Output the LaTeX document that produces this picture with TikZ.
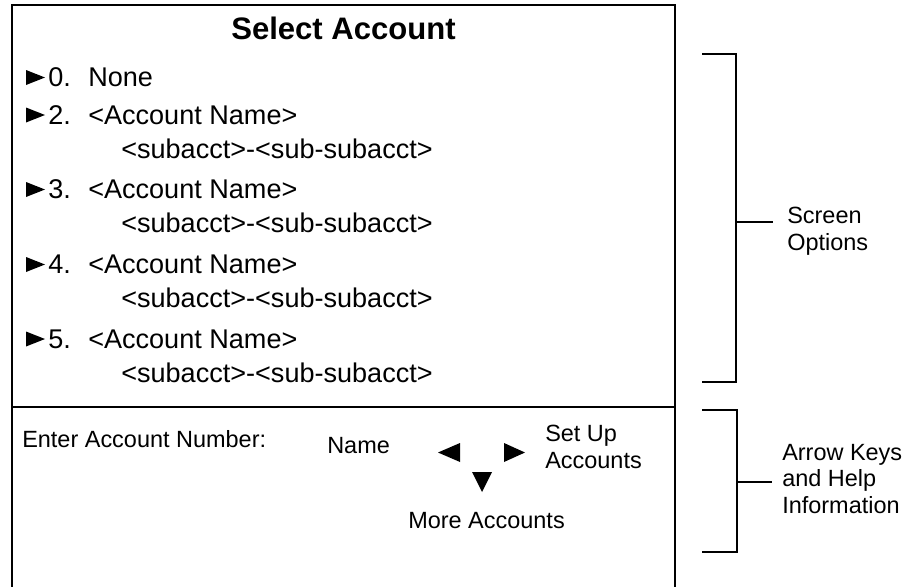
\documentclass[tikz,border=0pt]{standalone}
\usepackage{fontspec}
\setmainfont{Liberation Sans}

\tikzset{
  frame/.style={line width=2.1pt},
  brace/.style={line width=1.9pt},
  heading/.style={font=\bfseries\fontsize{23.3}{28}\selectfont,inner sep=0pt,anchor=base},
  item/.style={font=\fontsize{20.3}{24}\selectfont,inner sep=0pt,anchor=base west},
  note/.style={font=\fontsize{17.6}{21}\selectfont,inner sep=0pt,anchor=base west}
}

\begin{document}
\begin{tikzpicture}[x=0.75pt,y=0.75pt,yscale=-1,xscale=1]
	\useasboundingbox (0,0) rectangle (914,586);
	% screen
	\draw [frame] (12,592) -- (12,5) -- (675,5) -- (675,592) ;
	\draw [frame] (12,407) -- (675,407) ;
	\draw (343.5,39) node (title) [heading] {Select Account};
	% account list
	\fill (26,70) -- (45,77.5) -- (26,85) -- cycle ;
	\draw (48,86.5) node (num0) [item] {0.};
	\draw (88,86.5) node (acct0) [item] {None};
	\fill (26,107.5) -- (45,115) -- (26,122.5) -- cycle ;
	\draw (48,124) node (num2) [item] {2.};
	\draw (88,124) node (acct2) [item] {<Account Name>};
	\draw (121,158) node (sub2) [item] {<subacct>-<sub-subacct>};
	\fill (26,182) -- (45,189.5) -- (26,197) -- cycle ;
	\draw (48,198.5) node (num3) [item] {3.};
	\draw (88,198.5) node (acct3) [item] {<Account Name>};
	\draw (121,232.5) node (sub3) [item] {<subacct>-<sub-subacct>};
	\fill (26,257) -- (45,264.5) -- (26,272) -- cycle ;
	\draw (48,273.5) node (num4) [item] {4.};
	\draw (88,273.5) node (acct4) [item] {<Account Name>};
	\draw (121,307.5) node (sub4) [item] {<subacct>-<sub-subacct>};
	\fill (26,331.5) -- (45,339) -- (26,346.5) -- cycle ;
	\draw (48,348) node (num5) [item] {5.};
	\draw (88,348) node (acct5) [item] {<Account Name>};
	\draw (121,382) node (sub5) [item] {<subacct>-<sub-subacct>};
	% prompt and keys
	\draw (22,447.5) node (prompt) [note] {Enter Account Number:};
	\draw (327,453) node (name) [note] {Name};
	\fill (460,443) -- (438,452.5) -- (460,462) -- cycle ;
	\fill (504,443) -- (525,452.5) -- (504,462) -- cycle ;
	\fill (472,472) -- (492,472) -- (482,492) -- cycle ;
	\draw (545,441.5) node (setup1) [note] {Set Up};
	\draw (545,468) node (setup2) [note] {Accounts};
	\draw (408,528) node (more) [note] {More Accounts};
	% brackets
	\draw [brace] (702,54) -- (736,54) -- (736,382) -- (702,382) ;
	\draw [brace] (736,222) -- (773,222) ;
	\draw (787,223) node (scr1) [note] {Screen};
	\draw (787,250) node (scr2) [note] {Options};
	\draw [brace] (702,410) -- (737,410) -- (737,552) -- (702,552) ;
	\draw [brace] (737,482) -- (772,482) ;
	\draw (782,460) node (keys1) [note] {Arrow Keys};
	\draw (782,486.5) node (keys2) [note] {and Help};
	\draw (782,513) node (keys3) [note] {Information};
\end{tikzpicture}
\end{document}
